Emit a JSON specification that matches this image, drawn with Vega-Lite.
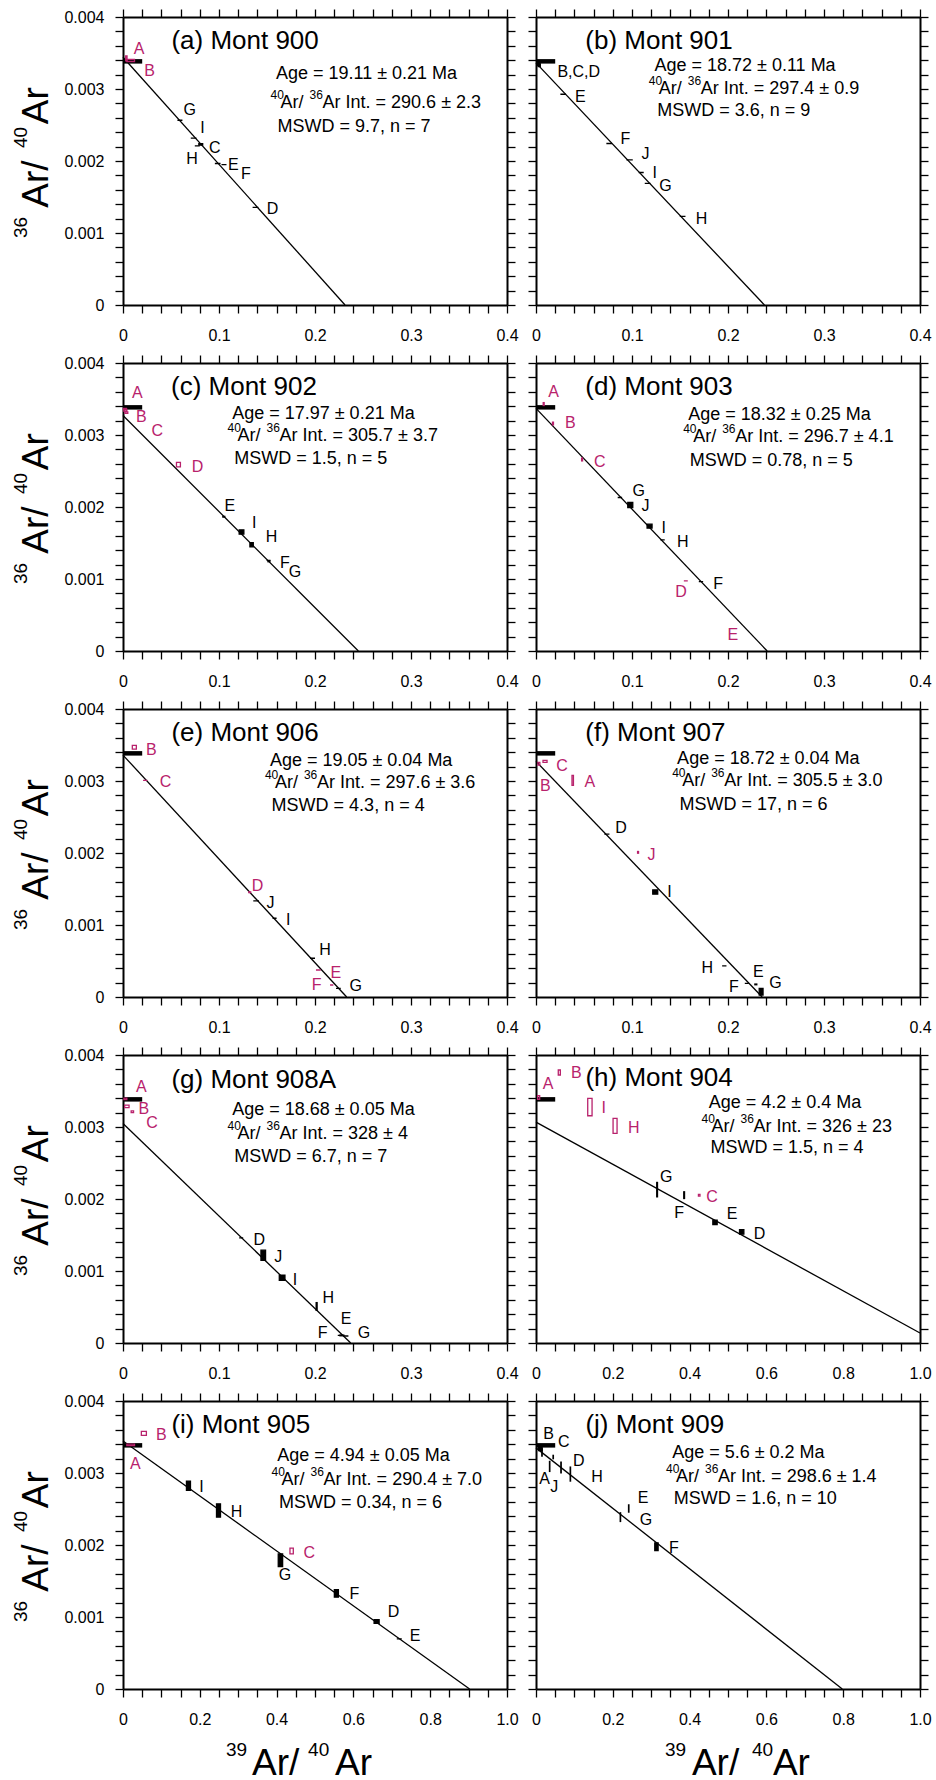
{
"$schema":"https://vega.github.io/schema/vega-lite/v6.json",
"padding":{"left":12,"top":8,"right":0,"bottom":0},
"config":{"font":"Liberation Sans","view":{"stroke":null},
 "axis":{"domainColor":"black","domainWidth":2,"tickColor":"black","tickWidth":1.3,"tickSize":8,"labelFontSize":16,"labelColor":"black","grid":false,"labelFlush":false,"labelOverlap":false},
 "axisX":{"labelPadding":14},
 "axisY":{"labelPadding":11}},
"datasets":{"d":[
{"p":"a","k":"fit","x":0,"y":0.003441},{"p":"a","k":"fit","x":0.2313,"y":0},
{"p":"a","k":"atm","x":0,"x2":0.02,"y":0.003384},
{"p":"a","k":"pt","s":"A","x":0.0028,"x2":0.0042,"y":0.00339,"y2":0.00346,"i":0},
{"p":"a","k":"pt","s":"B","x":0.004,"x2":0.012,"y":0.00338,"y2":0.00341,"i":0},
{"p":"a","k":"pt","s":"G","x":0.0567,"x2":0.0619,"y":0.002566,"y2":0.002566,"i":1},
{"p":"a","k":"pt","s":"I","x":0.0706,"x2":0.0765,"y":0.002317,"y2":0.002317,"i":1},
{"p":"a","k":"pt","s":"H","x":0.0748,"x2":0.08,"y":0.00221,"y2":0.00221,"i":1},
{"p":"a","k":"pt","s":"C","x":0.079,"x2":0.083,"y":0.00222,"y2":0.00224,"i":1},
{"p":"a","k":"pt","s":"E","x":0.0957,"x2":0.1016,"y":0.001965,"y2":0.001965,"i":1},
{"p":"a","k":"pt","s":"F","x":0.1026,"x2":0.1078,"y":0.00195,"y2":0.00195,"i":1},
{"p":"a","k":"pt","s":"D","x":0.135,"x2":0.141,"y":0.001355,"y2":0.001355,"i":1},
{"p":"a","k":"lab","s":"A","x":0.0167,"y":0.00356,"i":0},
{"p":"a","k":"lab","s":"B","x":0.0278,"y":0.00325,"i":0},
{"p":"a","k":"lab","s":"G","x":0.0696,"y":0.002705,"i":1},
{"p":"a","k":"lab","s":"I","x":0.0828,"y":0.002465,"i":1},
{"p":"a","k":"lab","s":"H","x":0.072,"y":0.002025,"i":1},
{"p":"a","k":"lab","s":"C","x":0.0957,"y":0.002187,"i":1},
{"p":"a","k":"lab","s":"E","x":0.1148,"y":0.001947,"i":1},
{"p":"a","k":"lab","s":"F","x":0.128,"y":0.001817,"i":1},
{"p":"a","k":"lab","s":"D","x":0.1558,"y":0.001332,"i":1},
{"p":"a","k":"ttl","x":0.0504,"y":0.00366,"t":"(a) Mont 900"},
{"p":"a","k":"st","x":0.1593,"y":0.003205,"t":"Age =  19.11 ± 0.21 Ma"},
{"p":"a","k":"st2","x":0.1537,"y":0.00281,"t":"Ar Int. =  290.6 ± 2.3"},
{"p":"a","k":"st","x":0.161,"y":0.00247,"t":"MSWD = 9.7, n = 7"},

{"p":"b","k":"fit","x":0,"y":0.003363},{"p":"b","k":"fit","x":0.238,"y":0},
{"p":"b","k":"atm","x":0,"x2":0.02,"y":0.003384},
{"p":"b","k":"pt","s":"B","x":0.0015,"x2":0.0035,"y":0.00333,"y2":0.00337,"i":1},
{"p":"b","k":"pt","s":"C","x":0.002,"x2":0.004,"y":0.00332,"y2":0.00336,"i":1},
{"p":"b","k":"pt","s":"D","x":0.0025,"x2":0.0045,"y":0.00331,"y2":0.00335,"i":1},
{"p":"b","k":"pt","s":"E","x":0.0254,"x2":0.0313,"y":0.002927,"y2":0.002927,"i":1},
{"p":"b","k":"pt","s":"F","x":0.0733,"x2":0.0792,"y":0.002243,"y2":0.002243,"i":1},
{"p":"b","k":"pt","s":"J","x":0.0942,"x2":0.1008,"y":0.002016,"y2":0.002016,"i":1},
{"p":"b","k":"pt","s":"I","x":0.107,"x2":0.1122,"y":0.00184,"y2":0.00184,"i":1},
{"p":"b","k":"pt","s":"G","x":0.1133,"x2":0.1192,"y":0.001688,"y2":0.001688,"i":1},
{"p":"b","k":"pt","s":"H","x":0.1498,"x2":0.1557,"y":0.00123,"y2":0.00123,"i":1},
{"p":"b","k":"lab","s":"B,C,D","x":0.0445,"y":0.003237,"i":1},
{"p":"b","k":"lab","s":"E","x":0.0462,"y":0.00289,"i":1},
{"p":"b","k":"lab","s":"F","x":0.0931,"y":0.002303,"i":1},
{"p":"b","k":"lab","s":"J","x":0.114,"y":0.002095,"i":1},
{"p":"b","k":"lab","s":"I","x":0.1237,"y":0.001827,"i":1},
{"p":"b","k":"lab","s":"G","x":0.1348,"y":0.001655,"i":1},
{"p":"b","k":"lab","s":"H","x":0.1724,"y":0.001193,"i":1},
{"p":"b","k":"ttl","x":0.0514,"y":0.003667,"t":"(b) Mont 901"},
{"p":"b","k":"st","x":0.1234,"y":0.00332,"t":"Age =  18.72 ± 0.11 Ma"},
{"p":"b","k":"st2","x":0.1175,"y":0.003,"t":"Ar Int. =  297.4 ± 0.9"},
{"p":"b","k":"st","x":0.1262,"y":0.002696,"t":"MSWD = 3.6, n = 9"},

{"p":"c","k":"fit","x":0,"y":0.003271},{"p":"c","k":"fit","x":0.2452,"y":0},
{"p":"c","k":"atm","x":0,"x2":0.02,"y":0.003384},
{"p":"c","k":"pt","s":"A","x":0.0005,"x2":0.0035,"y":0.00335,"y2":0.00337,"i":0},
{"p":"c","k":"pt","s":"B","x":0.001,"x2":0.004,"y":0.00333,"y2":0.00336,"i":0},
{"p":"c","k":"pt","s":"C","x":0.002,"x2":0.005,"y":0.0033,"y2":0.00332,"i":0},
{"p":"c","k":"pt","s":"D","x":0.0557,"x2":0.0598,"y":0.002558,"y2":0.002619,"i":0},
{"p":"c","k":"pt","s":"E","x":0.104,"x2":0.106,"y":0.00186,"y2":0.00187,"i":1},
{"p":"c","k":"pt","s":"I","x":0.121,"x2":0.1259,"y":0.001622,"y2":0.001683,"i":1},
{"p":"c","k":"pt","s":"H","x":0.1322,"x2":0.1357,"y":0.001446,"y2":0.001506,"i":1},
{"p":"c","k":"pt","s":"F","x":0.1496,"x2":0.1537,"y":0.00126,"y2":0.00126,"i":1},
{"p":"c","k":"pt","s":"G","x":0.151,"x2":0.153,"y":0.00124,"y2":0.00125,"i":1},
{"p":"c","k":"lab","s":"A","x":0.015,"y":0.003583,"i":0},
{"p":"c","k":"lab","s":"B","x":0.0191,"y":0.003254,"i":0},
{"p":"c","k":"lab","s":"C","x":0.0358,"y":0.00305,"i":0},
{"p":"c","k":"lab","s":"D","x":0.0776,"y":0.002558,"i":0},
{"p":"c","k":"lab","s":"E","x":0.1113,"y":0.002007,"i":1},
{"p":"c","k":"lab","s":"I","x":0.1367,"y":0.001784,"i":1},
{"p":"c","k":"lab","s":"H","x":0.1548,"y":0.001585,"i":1},
{"p":"c","k":"lab","s":"F","x":0.1687,"y":0.001228,"i":1},
{"p":"c","k":"lab","s":"G","x":0.1791,"y":0.001103,"i":1},
{"p":"c","k":"ttl","x":0.05,"y":0.003662,"t":"(c) Mont 902"},
{"p":"c","k":"st","x":0.1137,"y":0.003291,"t":"Age =  17.97 ± 0.21 Ma"},
{"p":"c","k":"st2","x":0.1089,"y":0.00298,"t":"Ar Int. =  305.7 ± 3.7"},
{"p":"c","k":"st","x":0.1158,"y":0.002665,"t":"MSWD = 1.5, n = 5"},

{"p":"d","k":"fit","x":0,"y":0.00337},{"p":"d","k":"fit","x":0.2408,"y":0},
{"p":"d","k":"atm","x":0,"x2":0.02,"y":0.003384},
{"p":"d","k":"pt","s":"A","x":0.0075,"x2":0.0085,"y":0.00341,"y2":0.00345,"i":0},
{"p":"d","k":"pt","s":"B","x":0.0172,"x2":0.0182,"y":0.00314,"y2":0.00318,"i":0},
{"p":"d","k":"pt","s":"C","x":0.0475,"x2":0.0485,"y":0.00264,"y2":0.00268,"i":0},
{"p":"d","k":"pt","s":"G","x":0.0851,"x2":0.0897,"y":0.002132,"y2":0.002132,"i":1},
{"p":"d","k":"pt","s":"J","x":0.0956,"x2":0.1008,"y":0.001993,"y2":0.002063,"i":1},
{"p":"d","k":"pt","s":"I","x":0.1157,"x2":0.1209,"y":0.001706,"y2":0.001761,"i":1},
{"p":"d","k":"pt","s":"H","x":0.1296,"x2":0.1341,"y":0.001543,"y2":0.001543,"i":1},
{"p":"d","k":"pt","s":"D","x":0.154,"x2":0.1581,"y":0.000973,"y2":0.000973,"i":0},
{"p":"d","k":"pt","s":"F","x":0.1696,"x2":0.1741,"y":0.000964,"y2":0.000964,"i":1},
{"p":"d","k":"lab","s":"A","x":0.0184,"y":0.003592,"i":0},
{"p":"d","k":"lab","s":"B","x":0.0358,"y":0.003161,"i":0},
{"p":"d","k":"lab","s":"C","x":0.0664,"y":0.002619,"i":0},
{"p":"d","k":"lab","s":"G","x":0.107,"y":0.002225,"i":1},
{"p":"d","k":"lab","s":"J","x":0.114,"y":0.002007,"i":1},
{"p":"d","k":"lab","s":"I","x":0.1331,"y":0.001715,"i":1},
{"p":"d","k":"lab","s":"H","x":0.1529,"y":0.001516,"i":1},
{"p":"d","k":"lab","s":"D","x":0.1512,"y":0.000825,"i":0},
{"p":"d","k":"lab","s":"F","x":0.1897,"y":0.000927,"i":1},
{"p":"d","k":"lab","s":"E","x":0.205,"y":0.000222,"i":0},
{"p":"d","k":"ttl","x":0.0514,"y":0.003662,"t":"(d) Mont 903"},
{"p":"d","k":"st","x":0.1585,"y":0.003282,"t":"Age =  18.32 ± 0.25 Ma"},
{"p":"d","k":"st2","x":0.1533,"y":0.002966,"t":"Ar Int. =  296.7 ± 4.1"},
{"p":"d","k":"st","x":0.1602,"y":0.00264,"t":"MSWD = 0.78, n = 5"},

{"p":"e","k":"fit","x":0,"y":0.00336},{"p":"e","k":"fit","x":0.233,"y":0},
{"p":"e","k":"atm","x":0,"x2":0.02,"y":0.003384},
{"p":"e","k":"pt","s":"B","x":0.0097,"x2":0.0139,"y":0.003444,"y2":0.003495,"i":0},
{"p":"e","k":"pt","s":"C","x":0.0209,"x2":0.0254,"y":0.003008,"y2":0.003008,"i":0},
{"p":"e","k":"pt","s":"D","x":0.131,"x2":0.133,"y":0.00145,"y2":0.00146,"i":0},
{"p":"e","k":"pt","s":"J","x":0.1357,"x2":0.1416,"y":0.001335,"y2":0.001335,"i":1},
{"p":"e","k":"pt","s":"I","x":0.1558,"x2":0.16,"y":0.001094,"y2":0.001094,"i":1},
{"p":"e","k":"pt","s":"H","x":0.1948,"x2":0.2,"y":0.000538,"y2":0.000538,"i":1},
{"p":"e","k":"pt","s":"E","x":0.201,"x2":0.206,"y":0.000375,"y2":0.000375,"i":0},
{"p":"e","k":"pt","s":"F","x":0.2157,"x2":0.2191,"y":0.000167,"y2":0.000167,"i":0},
{"p":"e","k":"pt","s":"G","x":0.2219,"x2":0.2268,"y":0.00012,"y2":0.00012,"i":1},
{"p":"e","k":"lab","s":"B","x":0.0296,"y":0.003435,"i":0},
{"p":"e","k":"lab","s":"C","x":0.0442,"y":0.002985,"i":0},
{"p":"e","k":"lab","s":"D","x":0.1402,"y":0.001548,"i":0},
{"p":"e","k":"lab","s":"J","x":0.1537,"y":0.001302,"i":1},
{"p":"e","k":"lab","s":"I","x":0.1722,"y":0.001071,"i":1},
{"p":"e","k":"lab","s":"H","x":0.2104,"y":0.000654,"i":1},
{"p":"e","k":"lab","s":"E","x":0.2216,"y":0.000338,"i":0},
{"p":"e","k":"lab","s":"F","x":0.2017,"y":0.000167,"i":0},
{"p":"e","k":"lab","s":"G","x":0.2424,"y":0.000153,"i":1},
{"p":"e","k":"ttl","x":0.0504,"y":0.003666,"t":"(e) Mont 906"},
{"p":"e","k":"st","x":0.153,"y":0.003282,"t":"Age =  19.05 ± 0.04 Ma"},
{"p":"e","k":"st2","x":0.1478,"y":0.002971,"t":"Ar Int. =  297.6 ± 3.6"},
{"p":"e","k":"st","x":0.1548,"y":0.002647,"t":"MSWD = 4.3, n = 4"},

{"p":"f","k":"fit","x":0,"y":0.003273},{"p":"f","k":"fit","x":0.2356,"y":0},
{"p":"f","k":"atm","x":0,"x2":0.02,"y":0.003384},
{"p":"f","k":"pt","s":"C","x":0.0073,"x2":0.0115,"y":0.003258,"y2":0.003286,"i":0},
{"p":"f","k":"pt","s":"B","x":0.002,"x2":0.004,"y":0.00322,"y2":0.00326,"i":0},
{"p":"f","k":"pt","s":"A","x":0.0375,"x2":0.039,"y":0.002939,"y2":0.003078,"i":0},
{"p":"f","k":"pt","s":"D","x":0.0712,"x2":0.0765,"y":0.002262,"y2":0.002262,"i":1},
{"p":"f","k":"pt","s":"J","x":0.1058,"x2":0.1068,"y":0.001997,"y2":0.002021,"i":0},
{"p":"f","k":"pt","s":"I","x":0.1216,"x2":0.1268,"y":0.001428,"y2":0.001488,"i":1},
{"p":"f","k":"pt","s":"H","x":0.1939,"x2":0.1984,"y":0.000431,"y2":0.000431,"i":1},
{"p":"f","k":"pt","s":"F","x":0.2175,"x2":0.2217,"y":0.00019,"y2":0.00019,"i":1},
{"p":"f","k":"pt","s":"E","x":0.228,"x2":0.23,"y":0.00017,"y2":0.00018,"i":1},
{"p":"f","k":"pt","s":"G","x":0.2325,"x2":0.2365,"y":0.000028,"y2":0.00012,"i":1},
{"p":"f","k":"lab","s":"C","x":0.0271,"y":0.003203,"i":0},
{"p":"f","k":"lab","s":"B","x":0.0097,"y":0.002925,"i":0},
{"p":"f","k":"lab","s":"A","x":0.056,"y":0.00298,"i":0},
{"p":"f","k":"lab","s":"D","x":0.0886,"y":0.002345,"i":1},
{"p":"f","k":"lab","s":"J","x":0.1202,"y":0.001975,"i":0},
{"p":"f","k":"lab","s":"I","x":0.139,"y":0.001455,"i":1},
{"p":"f","k":"lab","s":"H","x":0.1783,"y":0.000399,"i":1},
{"p":"f","k":"lab","s":"F","x":0.2061,"y":0.000144,"i":1},
{"p":"f","k":"lab","s":"E","x":0.2315,"y":0.000352,"i":1},
{"p":"f","k":"lab","s":"G","x":0.2495,"y":0.00019,"i":1},
{"p":"f","k":"ttl","x":0.0514,"y":0.003666,"t":"(f) Mont 907"},
{"p":"f","k":"st","x":0.147,"y":0.00331,"t":"Age =  18.72 ± 0.04 Ma"},
{"p":"f","k":"st2","x":0.1418,"y":0.002995,"t":"Ar Int. =  305.5 ± 3.0"},
{"p":"f","k":"st","x":0.1494,"y":0.00267,"t":"MSWD = 17, n = 6"},

{"p":"g","k":"fit","x":0,"y":0.003049},{"p":"g","k":"fit","x":0.2372,"y":0},
{"p":"g","k":"atm","x":0,"x2":0.02,"y":0.003384},
{"p":"g","k":"pt","s":"A","x":0.001,"x2":0.004,"y":0.00338,"y2":0.0034,"i":0},
{"p":"g","k":"pt","s":"B","x":0.0017,"x2":0.0063,"y":0.003268,"y2":0.003305,"i":0},
{"p":"g","k":"pt","s":"C","x":0.0085,"x2":0.011,"y":0.0032,"y2":0.003225,"i":0},
{"p":"g","k":"pt","s":"D","x":0.121,"x2":0.1252,"y":0.00146,"y2":0.00146,"i":1},
{"p":"g","k":"pt","s":"J","x":0.1437,"x2":0.1485,"y":0.001149,"y2":0.001289,"i":1},
{"p":"g","k":"pt","s":"I","x":0.1628,"x2":0.1687,"y":0.000871,"y2":0.000941,"i":1},
{"p":"g","k":"pt","s":"H","x":0.2012,"x2":0.2022,"y":0.000454,"y2":0.000561,"i":1},
{"p":"g","k":"pt","s":"F","x":0.2237,"x2":0.2289,"y":0.000107,"y2":0.000107,"i":1},
{"p":"g","k":"pt","s":"E","x":0.226,"x2":0.23,"y":0.0001,"y2":0.00011,"i":1},
{"p":"g","k":"pt","s":"G","x":0.2296,"x2":0.2348,"y":0.000097,"y2":0.000097,"i":1},
{"p":"g","k":"lab","s":"A","x":0.0191,"y":0.00356,"i":0},
{"p":"g","k":"lab","s":"B","x":0.0216,"y":0.003249,"i":0},
{"p":"g","k":"lab","s":"C","x":0.0303,"y":0.00305,"i":0},
{"p":"g","k":"lab","s":"D","x":0.1419,"y":0.001428,"i":1},
{"p":"g","k":"lab","s":"J","x":0.1617,"y":0.001196,"i":1},
{"p":"g","k":"lab","s":"I","x":0.1791,"y":0.000881,"i":1},
{"p":"g","k":"lab","s":"H","x":0.2139,"y":0.00063,"i":1},
{"p":"g","k":"lab","s":"E","x":0.2323,"y":0.000338,"i":1},
{"p":"g","k":"lab","s":"F","x":0.208,"y":0.000139,"i":1},
{"p":"g","k":"lab","s":"G","x":0.2511,"y":0.000139,"i":1},
{"p":"g","k":"ttl","x":0.0504,"y":0.003652,"t":"(g) Mont 908A"},
{"p":"g","k":"st","x":0.1137,"y":0.003235,"t":"Age =  18.68 ± 0.05 Ma"},
{"p":"g","k":"st2","x":0.1089,"y":0.002897,"t":"Ar Int. =  328 ± 4"},
{"p":"g","k":"st","x":0.1158,"y":0.002586,"t":"MSWD = 6.7, n = 7"},

{"p":"h","k":"fit","x":0,"y":0.003067},{"p":"h","k":"fit","x":1,"y":0.000139},
{"p":"h","k":"atm","x":0,"x2":0.05,"y":0.003384},
{"p":"h","k":"pt","s":"A","x":0.0043,"x2":0.0096,"y":0.003384,"y2":0.003435,"i":0},
{"p":"h","k":"pt","s":"B","x":0.058,"x2":0.0634,"y":0.003722,"y2":0.003792,"i":0},
{"p":"h","k":"pt","s":"I","x":0.1347,"x2":0.146,"y":0.003156,"y2":0.003397,"i":0},
{"p":"h","k":"pt","s":"H","x":0.2007,"x2":0.2111,"y":0.002911,"y2":0.003119,"i":0},
{"p":"h","k":"pt","s":"G","x":0.3144,"x2":0.3164,"y":0.00203,"y2":0.00223,"i":1},
{"p":"h","k":"pt","s":"F","x":0.3848,"x2":0.3868,"y":0.002007,"y2":0.0021,"i":1},
{"p":"h","k":"pt","s":"C","x":0.423,"x2":0.427,"y":0.00204,"y2":0.002065,"i":0},
{"p":"h","k":"pt","s":"E","x":0.4605,"x2":0.4718,"y":0.001645,"y2":0.001706,"i":1},
{"p":"h","k":"pt","s":"D","x":0.53,"x2":0.5413,"y":0.001511,"y2":0.001576,"i":1},
{"p":"h","k":"lab","s":"A","x":0.0313,"y":0.003592,"i":0},
{"p":"h","k":"lab","s":"B","x":0.1051,"y":0.003745,"i":0},
{"p":"h","k":"lab","s":"I","x":0.1764,"y":0.003258,"i":0},
{"p":"h","k":"lab","s":"H","x":0.2546,"y":0.00299,"i":0},
{"p":"h","k":"lab","s":"G","x":0.3388,"y":0.002308,"i":1},
{"p":"h","k":"lab","s":"F","x":0.3727,"y":0.001808,"i":1},
{"p":"h","k":"lab","s":"C","x":0.4587,"y":0.00203,"i":0},
{"p":"h","k":"lab","s":"E","x":0.5109,"y":0.001798,"i":1},
{"p":"h","k":"lab","s":"D","x":0.5821,"y":0.00152,"i":1},
{"p":"h","k":"ttl","x":0.1286,"y":0.003676,"t":"(h) Mont 904"},
{"p":"h","k":"st","x":0.45,"y":0.003328,"t":"Age =  4.2 ± 0.4 Ma"},
{"p":"h","k":"st2","x":0.431,"y":0.003003,"t":"Ar Int. =  326 ± 23"},
{"p":"h","k":"st","x":0.4544,"y":0.002702,"t":"MSWD = 1.5, n = 4"},

{"p":"i","k":"fit","x":0,"y":0.003444},{"p":"i","k":"fit","x":0.9026,"y":0},
{"p":"i","k":"atm","x":0,"x2":0.05,"y":0.003384},
{"p":"i","k":"pt","s":"B","x":0.0478,"x2":0.0609,"y":0.003523,"y2":0.003578,"i":0},
{"p":"i","k":"pt","s":"A","x":0.01,"x2":0.03,"y":0.00338,"y2":0.0034,"i":0},
{"p":"i","k":"pt","s":"I","x":0.1652,"x2":0.1757,"y":0.002758,"y2":0.002888,"i":1},
{"p":"i","k":"pt","s":"H","x":0.2435,"x2":0.2539,"y":0.002387,"y2":0.002572,"i":1},
{"p":"i","k":"pt","s":"G","x":0.4043,"x2":0.4157,"y":0.001701,"y2":0.001877,"i":1},
{"p":"i","k":"pt","s":"C","x":0.4348,"x2":0.4435,"y":0.001877,"y2":0.001956,"i":0},
{"p":"i","k":"pt","s":"F","x":0.5504,"x2":0.5609,"y":0.001275,"y2":0.001381,"i":1},
{"p":"i","k":"pt","s":"D","x":0.6539,"x2":0.667,"y":0.000913,"y2":0.000964,"i":1},
{"p":"i","k":"pt","s":"E","x":0.713,"x2":0.726,"y":0.000695,"y2":0.000695,"i":1},
{"p":"i","k":"lab","s":"B","x":0.1,"y":0.003532,"i":0},
{"p":"i","k":"lab","s":"A","x":0.0322,"y":0.003129,"i":0},
{"p":"i","k":"lab","s":"I","x":0.2043,"y":0.002804,"i":1},
{"p":"i","k":"lab","s":"H","x":0.2957,"y":0.002457,"i":1},
{"p":"i","k":"lab","s":"G","x":0.4217,"y":0.001585,"i":1},
{"p":"i","k":"lab","s":"C","x":0.4852,"y":0.001891,"i":0},
{"p":"i","k":"lab","s":"F","x":0.6026,"y":0.001321,"i":1},
{"p":"i","k":"lab","s":"D","x":0.7043,"y":0.001066,"i":1},
{"p":"i","k":"lab","s":"E","x":0.7609,"y":0.000742,"i":1},
{"p":"i","k":"ttl","x":0.126,"y":0.003671,"t":"(i) Mont 905"},
{"p":"i","k":"st","x":0.4017,"y":0.003235,"t":"Age =  4.94 ± 0.05 Ma"},
{"p":"i","k":"st2","x":0.387,"y":0.002897,"t":"Ar Int. =  290.4 ± 7.0"},
{"p":"i","k":"st","x":0.406,"y":0.002586,"t":"MSWD = 0.34, n = 6"},

{"p":"j","k":"fit","x":0,"y":0.003349},{"p":"j","k":"fit","x":0.7976,"y":0},
{"p":"j","k":"atm","x":0,"x2":0.05,"y":0.003384},
{"p":"j","k":"pt","s":"B","x":0.007,"x2":0.016,"y":0.00331,"y2":0.00338,"i":1},
{"p":"j","k":"pt","s":"C","x":0.009,"x2":0.014,"y":0.00332,"y2":0.00336,"i":1},
{"p":"j","k":"pt","s":"A","x":0.0151,"x2":0.0161,"y":0.003235,"y2":0.003337,"i":1},
{"p":"j","k":"pt","s":"J","x":0.0351,"x2":0.0361,"y":0.003022,"y2":0.003161,"i":1},
{"p":"j","k":"pt","s":"I","x":0.0443,"x2":0.0453,"y":0.003199,"y2":0.003245,"i":1},
{"p":"j","k":"pt","s":"D","x":0.0647,"x2":0.0657,"y":0.003003,"y2":0.003152,"i":1},
{"p":"j","k":"pt","s":"H","x":0.089,"x2":0.09,"y":0.002888,"y2":0.003082,"i":1},
{"p":"j","k":"pt","s":"G","x":0.2193,"x2":0.2203,"y":0.002327,"y2":0.002447,"i":1},
{"p":"j","k":"pt","s":"E","x":0.241,"x2":0.242,"y":0.002457,"y2":0.002557,"i":1},
{"p":"j","k":"pt","s":"F","x":0.3093,"x2":0.318,"y":0.001923,"y2":0.00203,"i":1},
{"p":"j","k":"lab","s":"B","x":0.033,"y":0.003537,"i":1},
{"p":"j","k":"lab","s":"C","x":0.0721,"y":0.00343,"i":1},
{"p":"j","k":"lab","s":"A","x":0.0226,"y":0.00292,"i":1},
{"p":"j","k":"lab","s":"J","x":0.0478,"y":0.002804,"i":1},
{"p":"j","k":"lab","s":"D","x":0.1112,"y":0.003166,"i":1},
{"p":"j","k":"lab","s":"H","x":0.159,"y":0.002943,"i":1},
{"p":"j","k":"lab","s":"E","x":0.2789,"y":0.002651,"i":1},
{"p":"j","k":"lab","s":"G","x":0.2867,"y":0.00235,"i":1},
{"p":"j","k":"lab","s":"F","x":0.3588,"y":0.001956,"i":1},
{"p":"j","k":"ttl","x":0.1286,"y":0.003662,"t":"(j) Mont 909"},
{"p":"j","k":"st","x":0.3545,"y":0.003282,"t":"Age =  5.6 ± 0.2 Ma"},
{"p":"j","k":"st2","x":0.3388,"y":0.002943,"t":"Ar Int. =  298.6 ± 1.4"},
{"p":"j","k":"st","x":0.3588,"y":0.00264,"t":"MSWD = 1.6, n = 10"}
]},
"data":{"name":"d"},
"columns":2,
"spacing":{"row":58,"column":29},
"bounds":"flush",
"concat":[
{"width":384,"height":288,"transform":[{"filter":"datum.p=='a'"}],
 "layer":[
  {"transform":[{"filter":"datum.k=='fit'"}],"mark":{"type":"line","color":"black","strokeWidth":1.3},
   "encoding":{"x":{"field":"x","type":"quantitative","scale":{"domain":[0,0.4],"nice":false,"zero":false},"axis":{"orient":"bottom","values":[0,0.02,0.04,0.06,0.08,0.1,0.12,0.14,0.16,0.18,0.2,0.22,0.24,0.26,0.28,0.3,0.32,0.34,0.36,0.38,0.4],"labelExpr":"abs(datum.value*10-round(datum.value*10))<0.01 ? (datum.value==0 ? '0' : format(datum.value,'.1f')) : ''","title":null}},
    "y":{"field":"y","type":"quantitative","scale":{"domain":[0,0.004],"nice":false,"zero":false},"axis":{"orient":"left","values":[0,0.0002,0.0004,0.0006,0.0008,0.001,0.0012,0.0014,0.0016,0.0018,0.002,0.0022,0.0024,0.0026,0.0028,0.003,0.0032,0.0034,0.0036,0.0038,0.004],"labelExpr":"abs(datum.value*1000-round(datum.value*1000))<0.01 ? (datum.value==0 ? '0' : format(datum.value,'.3f')) : ''","title":null}}}},
  {"transform":[{"filter":"datum.k=='atm'"}],"mark":{"type":"rule","color":"black","strokeWidth":4.5},
   "encoding":{"x":{"field":"x","type":"quantitative","axis":{"orient":"top","values":[0,0.02,0.04,0.06,0.08,0.1,0.12,0.14,0.16,0.18,0.2,0.22,0.24,0.26,0.28,0.3,0.32,0.34,0.36,0.38,0.4],"labels":false,"title":null}},"x2":{"field":"x2"},
    "y":{"field":"y","type":"quantitative","axis":{"orient":"right","values":[0,0.0002,0.0004,0.0006,0.0008,0.001,0.0012,0.0014,0.0016,0.0018,0.002,0.0022,0.0024,0.0026,0.0028,0.003,0.0032,0.0034,0.0036,0.0038,0.004],"labels":false,"title":null}}}},
  {"transform":[{"filter":"datum.k=='pt' && datum.i==0"}],"mark":{"type":"rect","filled":false,"stroke":"#b8226c","strokeWidth":1.3},
   "encoding":{"x":{"field":"x","type":"quantitative","axis":null},"x2":{"field":"x2"},"y":{"field":"y","type":"quantitative","axis":null},"y2":{"field":"y2"}}},
  {"transform":[{"filter":"datum.k=='pt' && datum.i==1"}],"mark":{"type":"rect","color":"black","stroke":"black","strokeWidth":1.3},
   "encoding":{"x":{"field":"x","type":"quantitative","axis":null},"x2":{"field":"x2"},"y":{"field":"y","type":"quantitative","axis":null},"y2":{"field":"y2"}}},
  {"transform":[{"filter":"datum.k=='lab'"}],"mark":{"type":"text","fontSize":16},
   "encoding":{"x":{"field":"x","type":"quantitative","axis":null},"y":{"field":"y","type":"quantitative","axis":null},"text":{"field":"s"},"color":{"condition":{"test":"datum.i==1","value":"black"},"value":"#b8226c"}}},
  {"transform":[{"filter":"datum.k=='ttl'"}],"mark":{"type":"text","fontSize":26,"align":"left","color":"black"},
   "encoding":{"x":{"field":"x","type":"quantitative","axis":null},"y":{"field":"y","type":"quantitative","axis":null},"text":{"field":"t"}}},
  {"transform":[{"filter":"datum.k=='st'"}],"mark":{"type":"text","fontSize":18,"align":"left","color":"black"},
   "encoding":{"x":{"field":"x","type":"quantitative","axis":null},"y":{"field":"y","type":"quantitative","axis":null},"text":{"field":"t"}}},
  {"transform":[{"filter":"datum.k=='st2'"}],"mark":{"type":"text","text":"40","fontSize":12,"align":"left","dy":-8,"color":"black"},
   "encoding":{"x":{"field":"x","type":"quantitative","axis":null},"y":{"field":"y","type":"quantitative","axis":null}}},
  {"transform":[{"filter":"datum.k=='st2'"}],"mark":{"type":"text","text":"Ar/","fontSize":18,"align":"left","dx":10,"color":"black"},
   "encoding":{"x":{"field":"x","type":"quantitative","axis":null},"y":{"field":"y","type":"quantitative","axis":null}}},
  {"transform":[{"filter":"datum.k=='st2'"}],"mark":{"type":"text","text":"36","fontSize":12,"align":"left","dx":39,"dy":-8,"color":"black"},
   "encoding":{"x":{"field":"x","type":"quantitative","axis":null},"y":{"field":"y","type":"quantitative","axis":null}}},
  {"transform":[{"filter":"datum.k=='st2'"}],"mark":{"type":"text","fontSize":18,"align":"left","dx":52,"color":"black"},
   "encoding":{"x":{"field":"x","type":"quantitative","axis":null},"y":{"field":"y","type":"quantitative","axis":null},"text":{"field":"t"}}},
  {"transform":[{"filter":"datum.k=='fit' && datum.x==0"}],"mark":{"type":"text","text":"36","fontSize":19,"angle":270,"align":"left","baseline":"alphabetic","dy":-96,"color":"black"},
   "encoding":{"x":{"datum":0,"type":"quantitative","axis":null},"y":{"datum":0.00093,"type":"quantitative","axis":null}}},
  {"transform":[{"filter":"datum.k=='fit' && datum.x==0"}],"mark":{"type":"text","text":"Ar/","fontSize":37,"angle":270,"align":"left","baseline":"alphabetic","dy":-75,"color":"black"},
   "encoding":{"x":{"datum":0,"type":"quantitative","axis":null},"y":{"datum":0.00135,"type":"quantitative","axis":null}}},
  {"transform":[{"filter":"datum.k=='fit' && datum.x==0"}],"mark":{"type":"text","text":"40","fontSize":19,"angle":270,"align":"left","baseline":"alphabetic","dy":-96,"color":"black"},
   "encoding":{"x":{"datum":0,"type":"quantitative","axis":null},"y":{"datum":0.00218,"type":"quantitative","axis":null}}},
  {"transform":[{"filter":"datum.k=='fit' && datum.x==0"}],"mark":{"type":"text","text":"Ar","fontSize":37,"angle":270,"align":"left","baseline":"alphabetic","dy":-75,"color":"black"},
   "encoding":{"x":{"datum":0,"type":"quantitative","axis":null},"y":{"datum":0.00251,"type":"quantitative","axis":null}}}
 ],
 "resolve":{"axis":{"x":"independent","y":"independent"}}},
{"width":384,"height":288,"transform":[{"filter":"datum.p=='b'"}],
 "layer":[
  {"transform":[{"filter":"datum.k=='fit'"}],"mark":{"type":"line","color":"black","strokeWidth":1.3},
   "encoding":{"x":{"field":"x","type":"quantitative","scale":{"domain":[0,0.4],"nice":false,"zero":false},"axis":{"orient":"bottom","values":[0,0.02,0.04,0.06,0.08,0.1,0.12,0.14,0.16,0.18,0.2,0.22,0.24,0.26,0.28,0.3,0.32,0.34,0.36,0.38,0.4],"labelExpr":"abs(datum.value*10-round(datum.value*10))<0.01 ? (datum.value==0 ? '0' : format(datum.value,'.1f')) : ''","title":null}},
    "y":{"field":"y","type":"quantitative","scale":{"domain":[0,0.004],"nice":false,"zero":false},"axis":{"orient":"left","values":[0,0.0002,0.0004,0.0006,0.0008,0.001,0.0012,0.0014,0.0016,0.0018,0.002,0.0022,0.0024,0.0026,0.0028,0.003,0.0032,0.0034,0.0036,0.0038,0.004],"labels":false,"title":null}}}},
  {"transform":[{"filter":"datum.k=='atm'"}],"mark":{"type":"rule","color":"black","strokeWidth":4.5},
   "encoding":{"x":{"field":"x","type":"quantitative","axis":{"orient":"top","values":[0,0.02,0.04,0.06,0.08,0.1,0.12,0.14,0.16,0.18,0.2,0.22,0.24,0.26,0.28,0.3,0.32,0.34,0.36,0.38,0.4],"labels":false,"title":null}},"x2":{"field":"x2"},
    "y":{"field":"y","type":"quantitative","axis":{"orient":"right","values":[0,0.0002,0.0004,0.0006,0.0008,0.001,0.0012,0.0014,0.0016,0.0018,0.002,0.0022,0.0024,0.0026,0.0028,0.003,0.0032,0.0034,0.0036,0.0038,0.004],"labels":false,"title":null}}}},
  {"transform":[{"filter":"datum.k=='pt' && datum.i==0"}],"mark":{"type":"rect","filled":false,"stroke":"#b8226c","strokeWidth":1.3},
   "encoding":{"x":{"field":"x","type":"quantitative","axis":null},"x2":{"field":"x2"},"y":{"field":"y","type":"quantitative","axis":null},"y2":{"field":"y2"}}},
  {"transform":[{"filter":"datum.k=='pt' && datum.i==1"}],"mark":{"type":"rect","color":"black","stroke":"black","strokeWidth":1.3},
   "encoding":{"x":{"field":"x","type":"quantitative","axis":null},"x2":{"field":"x2"},"y":{"field":"y","type":"quantitative","axis":null},"y2":{"field":"y2"}}},
  {"transform":[{"filter":"datum.k=='lab'"}],"mark":{"type":"text","fontSize":16},
   "encoding":{"x":{"field":"x","type":"quantitative","axis":null},"y":{"field":"y","type":"quantitative","axis":null},"text":{"field":"s"},"color":{"condition":{"test":"datum.i==1","value":"black"},"value":"#b8226c"}}},
  {"transform":[{"filter":"datum.k=='ttl'"}],"mark":{"type":"text","fontSize":26,"align":"left","color":"black"},
   "encoding":{"x":{"field":"x","type":"quantitative","axis":null},"y":{"field":"y","type":"quantitative","axis":null},"text":{"field":"t"}}},
  {"transform":[{"filter":"datum.k=='st'"}],"mark":{"type":"text","fontSize":18,"align":"left","color":"black"},
   "encoding":{"x":{"field":"x","type":"quantitative","axis":null},"y":{"field":"y","type":"quantitative","axis":null},"text":{"field":"t"}}},
  {"transform":[{"filter":"datum.k=='st2'"}],"mark":{"type":"text","text":"40","fontSize":12,"align":"left","dy":-8,"color":"black"},
   "encoding":{"x":{"field":"x","type":"quantitative","axis":null},"y":{"field":"y","type":"quantitative","axis":null}}},
  {"transform":[{"filter":"datum.k=='st2'"}],"mark":{"type":"text","text":"Ar/","fontSize":18,"align":"left","dx":10,"color":"black"},
   "encoding":{"x":{"field":"x","type":"quantitative","axis":null},"y":{"field":"y","type":"quantitative","axis":null}}},
  {"transform":[{"filter":"datum.k=='st2'"}],"mark":{"type":"text","text":"36","fontSize":12,"align":"left","dx":39,"dy":-8,"color":"black"},
   "encoding":{"x":{"field":"x","type":"quantitative","axis":null},"y":{"field":"y","type":"quantitative","axis":null}}},
  {"transform":[{"filter":"datum.k=='st2'"}],"mark":{"type":"text","fontSize":18,"align":"left","dx":52,"color":"black"},
   "encoding":{"x":{"field":"x","type":"quantitative","axis":null},"y":{"field":"y","type":"quantitative","axis":null},"text":{"field":"t"}}}
 ],
 "resolve":{"axis":{"x":"independent","y":"independent"}}},
{"width":384,"height":288,"transform":[{"filter":"datum.p=='c'"}],
 "layer":[
  {"transform":[{"filter":"datum.k=='fit'"}],"mark":{"type":"line","color":"black","strokeWidth":1.3},
   "encoding":{"x":{"field":"x","type":"quantitative","scale":{"domain":[0,0.4],"nice":false,"zero":false},"axis":{"orient":"bottom","values":[0,0.02,0.04,0.06,0.08,0.1,0.12,0.14,0.16,0.18,0.2,0.22,0.24,0.26,0.28,0.3,0.32,0.34,0.36,0.38,0.4],"labelExpr":"abs(datum.value*10-round(datum.value*10))<0.01 ? (datum.value==0 ? '0' : format(datum.value,'.1f')) : ''","title":null}},
    "y":{"field":"y","type":"quantitative","scale":{"domain":[0,0.004],"nice":false,"zero":false},"axis":{"orient":"left","values":[0,0.0002,0.0004,0.0006,0.0008,0.001,0.0012,0.0014,0.0016,0.0018,0.002,0.0022,0.0024,0.0026,0.0028,0.003,0.0032,0.0034,0.0036,0.0038,0.004],"labelExpr":"abs(datum.value*1000-round(datum.value*1000))<0.01 ? (datum.value==0 ? '0' : format(datum.value,'.3f')) : ''","title":null}}}},
  {"transform":[{"filter":"datum.k=='atm'"}],"mark":{"type":"rule","color":"black","strokeWidth":4.5},
   "encoding":{"x":{"field":"x","type":"quantitative","axis":{"orient":"top","values":[0,0.02,0.04,0.06,0.08,0.1,0.12,0.14,0.16,0.18,0.2,0.22,0.24,0.26,0.28,0.3,0.32,0.34,0.36,0.38,0.4],"labels":false,"title":null}},"x2":{"field":"x2"},
    "y":{"field":"y","type":"quantitative","axis":{"orient":"right","values":[0,0.0002,0.0004,0.0006,0.0008,0.001,0.0012,0.0014,0.0016,0.0018,0.002,0.0022,0.0024,0.0026,0.0028,0.003,0.0032,0.0034,0.0036,0.0038,0.004],"labels":false,"title":null}}}},
  {"transform":[{"filter":"datum.k=='pt' && datum.i==0"}],"mark":{"type":"rect","filled":false,"stroke":"#b8226c","strokeWidth":1.3},
   "encoding":{"x":{"field":"x","type":"quantitative","axis":null},"x2":{"field":"x2"},"y":{"field":"y","type":"quantitative","axis":null},"y2":{"field":"y2"}}},
  {"transform":[{"filter":"datum.k=='pt' && datum.i==1"}],"mark":{"type":"rect","color":"black","stroke":"black","strokeWidth":1.3},
   "encoding":{"x":{"field":"x","type":"quantitative","axis":null},"x2":{"field":"x2"},"y":{"field":"y","type":"quantitative","axis":null},"y2":{"field":"y2"}}},
  {"transform":[{"filter":"datum.k=='lab'"}],"mark":{"type":"text","fontSize":16},
   "encoding":{"x":{"field":"x","type":"quantitative","axis":null},"y":{"field":"y","type":"quantitative","axis":null},"text":{"field":"s"},"color":{"condition":{"test":"datum.i==1","value":"black"},"value":"#b8226c"}}},
  {"transform":[{"filter":"datum.k=='ttl'"}],"mark":{"type":"text","fontSize":26,"align":"left","color":"black"},
   "encoding":{"x":{"field":"x","type":"quantitative","axis":null},"y":{"field":"y","type":"quantitative","axis":null},"text":{"field":"t"}}},
  {"transform":[{"filter":"datum.k=='st'"}],"mark":{"type":"text","fontSize":18,"align":"left","color":"black"},
   "encoding":{"x":{"field":"x","type":"quantitative","axis":null},"y":{"field":"y","type":"quantitative","axis":null},"text":{"field":"t"}}},
  {"transform":[{"filter":"datum.k=='st2'"}],"mark":{"type":"text","text":"40","fontSize":12,"align":"left","dy":-8,"color":"black"},
   "encoding":{"x":{"field":"x","type":"quantitative","axis":null},"y":{"field":"y","type":"quantitative","axis":null}}},
  {"transform":[{"filter":"datum.k=='st2'"}],"mark":{"type":"text","text":"Ar/","fontSize":18,"align":"left","dx":10,"color":"black"},
   "encoding":{"x":{"field":"x","type":"quantitative","axis":null},"y":{"field":"y","type":"quantitative","axis":null}}},
  {"transform":[{"filter":"datum.k=='st2'"}],"mark":{"type":"text","text":"36","fontSize":12,"align":"left","dx":39,"dy":-8,"color":"black"},
   "encoding":{"x":{"field":"x","type":"quantitative","axis":null},"y":{"field":"y","type":"quantitative","axis":null}}},
  {"transform":[{"filter":"datum.k=='st2'"}],"mark":{"type":"text","fontSize":18,"align":"left","dx":52,"color":"black"},
   "encoding":{"x":{"field":"x","type":"quantitative","axis":null},"y":{"field":"y","type":"quantitative","axis":null},"text":{"field":"t"}}},
  {"transform":[{"filter":"datum.k=='fit' && datum.x==0"}],"mark":{"type":"text","text":"36","fontSize":19,"angle":270,"align":"left","baseline":"alphabetic","dy":-96,"color":"black"},
   "encoding":{"x":{"datum":0,"type":"quantitative","axis":null},"y":{"datum":0.00093,"type":"quantitative","axis":null}}},
  {"transform":[{"filter":"datum.k=='fit' && datum.x==0"}],"mark":{"type":"text","text":"Ar/","fontSize":37,"angle":270,"align":"left","baseline":"alphabetic","dy":-75,"color":"black"},
   "encoding":{"x":{"datum":0,"type":"quantitative","axis":null},"y":{"datum":0.00135,"type":"quantitative","axis":null}}},
  {"transform":[{"filter":"datum.k=='fit' && datum.x==0"}],"mark":{"type":"text","text":"40","fontSize":19,"angle":270,"align":"left","baseline":"alphabetic","dy":-96,"color":"black"},
   "encoding":{"x":{"datum":0,"type":"quantitative","axis":null},"y":{"datum":0.00218,"type":"quantitative","axis":null}}},
  {"transform":[{"filter":"datum.k=='fit' && datum.x==0"}],"mark":{"type":"text","text":"Ar","fontSize":37,"angle":270,"align":"left","baseline":"alphabetic","dy":-75,"color":"black"},
   "encoding":{"x":{"datum":0,"type":"quantitative","axis":null},"y":{"datum":0.00251,"type":"quantitative","axis":null}}}
 ],
 "resolve":{"axis":{"x":"independent","y":"independent"}}},
{"width":384,"height":288,"transform":[{"filter":"datum.p=='d'"}],
 "layer":[
  {"transform":[{"filter":"datum.k=='fit'"}],"mark":{"type":"line","color":"black","strokeWidth":1.3},
   "encoding":{"x":{"field":"x","type":"quantitative","scale":{"domain":[0,0.4],"nice":false,"zero":false},"axis":{"orient":"bottom","values":[0,0.02,0.04,0.06,0.08,0.1,0.12,0.14,0.16,0.18,0.2,0.22,0.24,0.26,0.28,0.3,0.32,0.34,0.36,0.38,0.4],"labelExpr":"abs(datum.value*10-round(datum.value*10))<0.01 ? (datum.value==0 ? '0' : format(datum.value,'.1f')) : ''","title":null}},
    "y":{"field":"y","type":"quantitative","scale":{"domain":[0,0.004],"nice":false,"zero":false},"axis":{"orient":"left","values":[0,0.0002,0.0004,0.0006,0.0008,0.001,0.0012,0.0014,0.0016,0.0018,0.002,0.0022,0.0024,0.0026,0.0028,0.003,0.0032,0.0034,0.0036,0.0038,0.004],"labels":false,"title":null}}}},
  {"transform":[{"filter":"datum.k=='atm'"}],"mark":{"type":"rule","color":"black","strokeWidth":4.5},
   "encoding":{"x":{"field":"x","type":"quantitative","axis":{"orient":"top","values":[0,0.02,0.04,0.06,0.08,0.1,0.12,0.14,0.16,0.18,0.2,0.22,0.24,0.26,0.28,0.3,0.32,0.34,0.36,0.38,0.4],"labels":false,"title":null}},"x2":{"field":"x2"},
    "y":{"field":"y","type":"quantitative","axis":{"orient":"right","values":[0,0.0002,0.0004,0.0006,0.0008,0.001,0.0012,0.0014,0.0016,0.0018,0.002,0.0022,0.0024,0.0026,0.0028,0.003,0.0032,0.0034,0.0036,0.0038,0.004],"labels":false,"title":null}}}},
  {"transform":[{"filter":"datum.k=='pt' && datum.i==0"}],"mark":{"type":"rect","filled":false,"stroke":"#b8226c","strokeWidth":1.3},
   "encoding":{"x":{"field":"x","type":"quantitative","axis":null},"x2":{"field":"x2"},"y":{"field":"y","type":"quantitative","axis":null},"y2":{"field":"y2"}}},
  {"transform":[{"filter":"datum.k=='pt' && datum.i==1"}],"mark":{"type":"rect","color":"black","stroke":"black","strokeWidth":1.3},
   "encoding":{"x":{"field":"x","type":"quantitative","axis":null},"x2":{"field":"x2"},"y":{"field":"y","type":"quantitative","axis":null},"y2":{"field":"y2"}}},
  {"transform":[{"filter":"datum.k=='lab'"}],"mark":{"type":"text","fontSize":16},
   "encoding":{"x":{"field":"x","type":"quantitative","axis":null},"y":{"field":"y","type":"quantitative","axis":null},"text":{"field":"s"},"color":{"condition":{"test":"datum.i==1","value":"black"},"value":"#b8226c"}}},
  {"transform":[{"filter":"datum.k=='ttl'"}],"mark":{"type":"text","fontSize":26,"align":"left","color":"black"},
   "encoding":{"x":{"field":"x","type":"quantitative","axis":null},"y":{"field":"y","type":"quantitative","axis":null},"text":{"field":"t"}}},
  {"transform":[{"filter":"datum.k=='st'"}],"mark":{"type":"text","fontSize":18,"align":"left","color":"black"},
   "encoding":{"x":{"field":"x","type":"quantitative","axis":null},"y":{"field":"y","type":"quantitative","axis":null},"text":{"field":"t"}}},
  {"transform":[{"filter":"datum.k=='st2'"}],"mark":{"type":"text","text":"40","fontSize":12,"align":"left","dy":-8,"color":"black"},
   "encoding":{"x":{"field":"x","type":"quantitative","axis":null},"y":{"field":"y","type":"quantitative","axis":null}}},
  {"transform":[{"filter":"datum.k=='st2'"}],"mark":{"type":"text","text":"Ar/","fontSize":18,"align":"left","dx":10,"color":"black"},
   "encoding":{"x":{"field":"x","type":"quantitative","axis":null},"y":{"field":"y","type":"quantitative","axis":null}}},
  {"transform":[{"filter":"datum.k=='st2'"}],"mark":{"type":"text","text":"36","fontSize":12,"align":"left","dx":39,"dy":-8,"color":"black"},
   "encoding":{"x":{"field":"x","type":"quantitative","axis":null},"y":{"field":"y","type":"quantitative","axis":null}}},
  {"transform":[{"filter":"datum.k=='st2'"}],"mark":{"type":"text","fontSize":18,"align":"left","dx":52,"color":"black"},
   "encoding":{"x":{"field":"x","type":"quantitative","axis":null},"y":{"field":"y","type":"quantitative","axis":null},"text":{"field":"t"}}}
 ],
 "resolve":{"axis":{"x":"independent","y":"independent"}}},
{"width":384,"height":288,"transform":[{"filter":"datum.p=='e'"}],
 "layer":[
  {"transform":[{"filter":"datum.k=='fit'"}],"mark":{"type":"line","color":"black","strokeWidth":1.3},
   "encoding":{"x":{"field":"x","type":"quantitative","scale":{"domain":[0,0.4],"nice":false,"zero":false},"axis":{"orient":"bottom","values":[0,0.02,0.04,0.06,0.08,0.1,0.12,0.14,0.16,0.18,0.2,0.22,0.24,0.26,0.28,0.3,0.32,0.34,0.36,0.38,0.4],"labelExpr":"abs(datum.value*10-round(datum.value*10))<0.01 ? (datum.value==0 ? '0' : format(datum.value,'.1f')) : ''","title":null}},
    "y":{"field":"y","type":"quantitative","scale":{"domain":[0,0.004],"nice":false,"zero":false},"axis":{"orient":"left","values":[0,0.0002,0.0004,0.0006,0.0008,0.001,0.0012,0.0014,0.0016,0.0018,0.002,0.0022,0.0024,0.0026,0.0028,0.003,0.0032,0.0034,0.0036,0.0038,0.004],"labelExpr":"abs(datum.value*1000-round(datum.value*1000))<0.01 ? (datum.value==0 ? '0' : format(datum.value,'.3f')) : ''","title":null}}}},
  {"transform":[{"filter":"datum.k=='atm'"}],"mark":{"type":"rule","color":"black","strokeWidth":4.5},
   "encoding":{"x":{"field":"x","type":"quantitative","axis":{"orient":"top","values":[0,0.02,0.04,0.06,0.08,0.1,0.12,0.14,0.16,0.18,0.2,0.22,0.24,0.26,0.28,0.3,0.32,0.34,0.36,0.38,0.4],"labels":false,"title":null}},"x2":{"field":"x2"},
    "y":{"field":"y","type":"quantitative","axis":{"orient":"right","values":[0,0.0002,0.0004,0.0006,0.0008,0.001,0.0012,0.0014,0.0016,0.0018,0.002,0.0022,0.0024,0.0026,0.0028,0.003,0.0032,0.0034,0.0036,0.0038,0.004],"labels":false,"title":null}}}},
  {"transform":[{"filter":"datum.k=='pt' && datum.i==0"}],"mark":{"type":"rect","filled":false,"stroke":"#b8226c","strokeWidth":1.3},
   "encoding":{"x":{"field":"x","type":"quantitative","axis":null},"x2":{"field":"x2"},"y":{"field":"y","type":"quantitative","axis":null},"y2":{"field":"y2"}}},
  {"transform":[{"filter":"datum.k=='pt' && datum.i==1"}],"mark":{"type":"rect","color":"black","stroke":"black","strokeWidth":1.3},
   "encoding":{"x":{"field":"x","type":"quantitative","axis":null},"x2":{"field":"x2"},"y":{"field":"y","type":"quantitative","axis":null},"y2":{"field":"y2"}}},
  {"transform":[{"filter":"datum.k=='lab'"}],"mark":{"type":"text","fontSize":16},
   "encoding":{"x":{"field":"x","type":"quantitative","axis":null},"y":{"field":"y","type":"quantitative","axis":null},"text":{"field":"s"},"color":{"condition":{"test":"datum.i==1","value":"black"},"value":"#b8226c"}}},
  {"transform":[{"filter":"datum.k=='ttl'"}],"mark":{"type":"text","fontSize":26,"align":"left","color":"black"},
   "encoding":{"x":{"field":"x","type":"quantitative","axis":null},"y":{"field":"y","type":"quantitative","axis":null},"text":{"field":"t"}}},
  {"transform":[{"filter":"datum.k=='st'"}],"mark":{"type":"text","fontSize":18,"align":"left","color":"black"},
   "encoding":{"x":{"field":"x","type":"quantitative","axis":null},"y":{"field":"y","type":"quantitative","axis":null},"text":{"field":"t"}}},
  {"transform":[{"filter":"datum.k=='st2'"}],"mark":{"type":"text","text":"40","fontSize":12,"align":"left","dy":-8,"color":"black"},
   "encoding":{"x":{"field":"x","type":"quantitative","axis":null},"y":{"field":"y","type":"quantitative","axis":null}}},
  {"transform":[{"filter":"datum.k=='st2'"}],"mark":{"type":"text","text":"Ar/","fontSize":18,"align":"left","dx":10,"color":"black"},
   "encoding":{"x":{"field":"x","type":"quantitative","axis":null},"y":{"field":"y","type":"quantitative","axis":null}}},
  {"transform":[{"filter":"datum.k=='st2'"}],"mark":{"type":"text","text":"36","fontSize":12,"align":"left","dx":39,"dy":-8,"color":"black"},
   "encoding":{"x":{"field":"x","type":"quantitative","axis":null},"y":{"field":"y","type":"quantitative","axis":null}}},
  {"transform":[{"filter":"datum.k=='st2'"}],"mark":{"type":"text","fontSize":18,"align":"left","dx":52,"color":"black"},
   "encoding":{"x":{"field":"x","type":"quantitative","axis":null},"y":{"field":"y","type":"quantitative","axis":null},"text":{"field":"t"}}},
  {"transform":[{"filter":"datum.k=='fit' && datum.x==0"}],"mark":{"type":"text","text":"36","fontSize":19,"angle":270,"align":"left","baseline":"alphabetic","dy":-96,"color":"black"},
   "encoding":{"x":{"datum":0,"type":"quantitative","axis":null},"y":{"datum":0.00093,"type":"quantitative","axis":null}}},
  {"transform":[{"filter":"datum.k=='fit' && datum.x==0"}],"mark":{"type":"text","text":"Ar/","fontSize":37,"angle":270,"align":"left","baseline":"alphabetic","dy":-75,"color":"black"},
   "encoding":{"x":{"datum":0,"type":"quantitative","axis":null},"y":{"datum":0.00135,"type":"quantitative","axis":null}}},
  {"transform":[{"filter":"datum.k=='fit' && datum.x==0"}],"mark":{"type":"text","text":"40","fontSize":19,"angle":270,"align":"left","baseline":"alphabetic","dy":-96,"color":"black"},
   "encoding":{"x":{"datum":0,"type":"quantitative","axis":null},"y":{"datum":0.00218,"type":"quantitative","axis":null}}},
  {"transform":[{"filter":"datum.k=='fit' && datum.x==0"}],"mark":{"type":"text","text":"Ar","fontSize":37,"angle":270,"align":"left","baseline":"alphabetic","dy":-75,"color":"black"},
   "encoding":{"x":{"datum":0,"type":"quantitative","axis":null},"y":{"datum":0.00251,"type":"quantitative","axis":null}}}
 ],
 "resolve":{"axis":{"x":"independent","y":"independent"}}},
{"width":384,"height":288,"transform":[{"filter":"datum.p=='f'"}],
 "layer":[
  {"transform":[{"filter":"datum.k=='fit'"}],"mark":{"type":"line","color":"black","strokeWidth":1.3},
   "encoding":{"x":{"field":"x","type":"quantitative","scale":{"domain":[0,0.4],"nice":false,"zero":false},"axis":{"orient":"bottom","values":[0,0.02,0.04,0.06,0.08,0.1,0.12,0.14,0.16,0.18,0.2,0.22,0.24,0.26,0.28,0.3,0.32,0.34,0.36,0.38,0.4],"labelExpr":"abs(datum.value*10-round(datum.value*10))<0.01 ? (datum.value==0 ? '0' : format(datum.value,'.1f')) : ''","title":null}},
    "y":{"field":"y","type":"quantitative","scale":{"domain":[0,0.004],"nice":false,"zero":false},"axis":{"orient":"left","values":[0,0.0002,0.0004,0.0006,0.0008,0.001,0.0012,0.0014,0.0016,0.0018,0.002,0.0022,0.0024,0.0026,0.0028,0.003,0.0032,0.0034,0.0036,0.0038,0.004],"labels":false,"title":null}}}},
  {"transform":[{"filter":"datum.k=='atm'"}],"mark":{"type":"rule","color":"black","strokeWidth":4.5},
   "encoding":{"x":{"field":"x","type":"quantitative","axis":{"orient":"top","values":[0,0.02,0.04,0.06,0.08,0.1,0.12,0.14,0.16,0.18,0.2,0.22,0.24,0.26,0.28,0.3,0.32,0.34,0.36,0.38,0.4],"labels":false,"title":null}},"x2":{"field":"x2"},
    "y":{"field":"y","type":"quantitative","axis":{"orient":"right","values":[0,0.0002,0.0004,0.0006,0.0008,0.001,0.0012,0.0014,0.0016,0.0018,0.002,0.0022,0.0024,0.0026,0.0028,0.003,0.0032,0.0034,0.0036,0.0038,0.004],"labels":false,"title":null}}}},
  {"transform":[{"filter":"datum.k=='pt' && datum.i==0"}],"mark":{"type":"rect","filled":false,"stroke":"#b8226c","strokeWidth":1.3},
   "encoding":{"x":{"field":"x","type":"quantitative","axis":null},"x2":{"field":"x2"},"y":{"field":"y","type":"quantitative","axis":null},"y2":{"field":"y2"}}},
  {"transform":[{"filter":"datum.k=='pt' && datum.i==1"}],"mark":{"type":"rect","color":"black","stroke":"black","strokeWidth":1.3},
   "encoding":{"x":{"field":"x","type":"quantitative","axis":null},"x2":{"field":"x2"},"y":{"field":"y","type":"quantitative","axis":null},"y2":{"field":"y2"}}},
  {"transform":[{"filter":"datum.k=='lab'"}],"mark":{"type":"text","fontSize":16},
   "encoding":{"x":{"field":"x","type":"quantitative","axis":null},"y":{"field":"y","type":"quantitative","axis":null},"text":{"field":"s"},"color":{"condition":{"test":"datum.i==1","value":"black"},"value":"#b8226c"}}},
  {"transform":[{"filter":"datum.k=='ttl'"}],"mark":{"type":"text","fontSize":26,"align":"left","color":"black"},
   "encoding":{"x":{"field":"x","type":"quantitative","axis":null},"y":{"field":"y","type":"quantitative","axis":null},"text":{"field":"t"}}},
  {"transform":[{"filter":"datum.k=='st'"}],"mark":{"type":"text","fontSize":18,"align":"left","color":"black"},
   "encoding":{"x":{"field":"x","type":"quantitative","axis":null},"y":{"field":"y","type":"quantitative","axis":null},"text":{"field":"t"}}},
  {"transform":[{"filter":"datum.k=='st2'"}],"mark":{"type":"text","text":"40","fontSize":12,"align":"left","dy":-8,"color":"black"},
   "encoding":{"x":{"field":"x","type":"quantitative","axis":null},"y":{"field":"y","type":"quantitative","axis":null}}},
  {"transform":[{"filter":"datum.k=='st2'"}],"mark":{"type":"text","text":"Ar/","fontSize":18,"align":"left","dx":10,"color":"black"},
   "encoding":{"x":{"field":"x","type":"quantitative","axis":null},"y":{"field":"y","type":"quantitative","axis":null}}},
  {"transform":[{"filter":"datum.k=='st2'"}],"mark":{"type":"text","text":"36","fontSize":12,"align":"left","dx":39,"dy":-8,"color":"black"},
   "encoding":{"x":{"field":"x","type":"quantitative","axis":null},"y":{"field":"y","type":"quantitative","axis":null}}},
  {"transform":[{"filter":"datum.k=='st2'"}],"mark":{"type":"text","fontSize":18,"align":"left","dx":52,"color":"black"},
   "encoding":{"x":{"field":"x","type":"quantitative","axis":null},"y":{"field":"y","type":"quantitative","axis":null},"text":{"field":"t"}}}
 ],
 "resolve":{"axis":{"x":"independent","y":"independent"}}},
{"width":384,"height":288,"transform":[{"filter":"datum.p=='g'"}],
 "layer":[
  {"transform":[{"filter":"datum.k=='fit'"}],"mark":{"type":"line","color":"black","strokeWidth":1.3},
   "encoding":{"x":{"field":"x","type":"quantitative","scale":{"domain":[0,0.4],"nice":false,"zero":false},"axis":{"orient":"bottom","values":[0,0.02,0.04,0.06,0.08,0.1,0.12,0.14,0.16,0.18,0.2,0.22,0.24,0.26,0.28,0.3,0.32,0.34,0.36,0.38,0.4],"labelExpr":"abs(datum.value*10-round(datum.value*10))<0.01 ? (datum.value==0 ? '0' : format(datum.value,'.1f')) : ''","title":null}},
    "y":{"field":"y","type":"quantitative","scale":{"domain":[0,0.004],"nice":false,"zero":false},"axis":{"orient":"left","values":[0,0.0002,0.0004,0.0006,0.0008,0.001,0.0012,0.0014,0.0016,0.0018,0.002,0.0022,0.0024,0.0026,0.0028,0.003,0.0032,0.0034,0.0036,0.0038,0.004],"labelExpr":"abs(datum.value*1000-round(datum.value*1000))<0.01 ? (datum.value==0 ? '0' : format(datum.value,'.3f')) : ''","title":null}}}},
  {"transform":[{"filter":"datum.k=='atm'"}],"mark":{"type":"rule","color":"black","strokeWidth":4.5},
   "encoding":{"x":{"field":"x","type":"quantitative","axis":{"orient":"top","values":[0,0.02,0.04,0.06,0.08,0.1,0.12,0.14,0.16,0.18,0.2,0.22,0.24,0.26,0.28,0.3,0.32,0.34,0.36,0.38,0.4],"labels":false,"title":null}},"x2":{"field":"x2"},
    "y":{"field":"y","type":"quantitative","axis":{"orient":"right","values":[0,0.0002,0.0004,0.0006,0.0008,0.001,0.0012,0.0014,0.0016,0.0018,0.002,0.0022,0.0024,0.0026,0.0028,0.003,0.0032,0.0034,0.0036,0.0038,0.004],"labels":false,"title":null}}}},
  {"transform":[{"filter":"datum.k=='pt' && datum.i==0"}],"mark":{"type":"rect","filled":false,"stroke":"#b8226c","strokeWidth":1.3},
   "encoding":{"x":{"field":"x","type":"quantitative","axis":null},"x2":{"field":"x2"},"y":{"field":"y","type":"quantitative","axis":null},"y2":{"field":"y2"}}},
  {"transform":[{"filter":"datum.k=='pt' && datum.i==1"}],"mark":{"type":"rect","color":"black","stroke":"black","strokeWidth":1.3},
   "encoding":{"x":{"field":"x","type":"quantitative","axis":null},"x2":{"field":"x2"},"y":{"field":"y","type":"quantitative","axis":null},"y2":{"field":"y2"}}},
  {"transform":[{"filter":"datum.k=='lab'"}],"mark":{"type":"text","fontSize":16},
   "encoding":{"x":{"field":"x","type":"quantitative","axis":null},"y":{"field":"y","type":"quantitative","axis":null},"text":{"field":"s"},"color":{"condition":{"test":"datum.i==1","value":"black"},"value":"#b8226c"}}},
  {"transform":[{"filter":"datum.k=='ttl'"}],"mark":{"type":"text","fontSize":26,"align":"left","color":"black"},
   "encoding":{"x":{"field":"x","type":"quantitative","axis":null},"y":{"field":"y","type":"quantitative","axis":null},"text":{"field":"t"}}},
  {"transform":[{"filter":"datum.k=='st'"}],"mark":{"type":"text","fontSize":18,"align":"left","color":"black"},
   "encoding":{"x":{"field":"x","type":"quantitative","axis":null},"y":{"field":"y","type":"quantitative","axis":null},"text":{"field":"t"}}},
  {"transform":[{"filter":"datum.k=='st2'"}],"mark":{"type":"text","text":"40","fontSize":12,"align":"left","dy":-8,"color":"black"},
   "encoding":{"x":{"field":"x","type":"quantitative","axis":null},"y":{"field":"y","type":"quantitative","axis":null}}},
  {"transform":[{"filter":"datum.k=='st2'"}],"mark":{"type":"text","text":"Ar/","fontSize":18,"align":"left","dx":10,"color":"black"},
   "encoding":{"x":{"field":"x","type":"quantitative","axis":null},"y":{"field":"y","type":"quantitative","axis":null}}},
  {"transform":[{"filter":"datum.k=='st2'"}],"mark":{"type":"text","text":"36","fontSize":12,"align":"left","dx":39,"dy":-8,"color":"black"},
   "encoding":{"x":{"field":"x","type":"quantitative","axis":null},"y":{"field":"y","type":"quantitative","axis":null}}},
  {"transform":[{"filter":"datum.k=='st2'"}],"mark":{"type":"text","fontSize":18,"align":"left","dx":52,"color":"black"},
   "encoding":{"x":{"field":"x","type":"quantitative","axis":null},"y":{"field":"y","type":"quantitative","axis":null},"text":{"field":"t"}}},
  {"transform":[{"filter":"datum.k=='fit' && datum.x==0"}],"mark":{"type":"text","text":"36","fontSize":19,"angle":270,"align":"left","baseline":"alphabetic","dy":-96,"color":"black"},
   "encoding":{"x":{"datum":0,"type":"quantitative","axis":null},"y":{"datum":0.00093,"type":"quantitative","axis":null}}},
  {"transform":[{"filter":"datum.k=='fit' && datum.x==0"}],"mark":{"type":"text","text":"Ar/","fontSize":37,"angle":270,"align":"left","baseline":"alphabetic","dy":-75,"color":"black"},
   "encoding":{"x":{"datum":0,"type":"quantitative","axis":null},"y":{"datum":0.00135,"type":"quantitative","axis":null}}},
  {"transform":[{"filter":"datum.k=='fit' && datum.x==0"}],"mark":{"type":"text","text":"40","fontSize":19,"angle":270,"align":"left","baseline":"alphabetic","dy":-96,"color":"black"},
   "encoding":{"x":{"datum":0,"type":"quantitative","axis":null},"y":{"datum":0.00218,"type":"quantitative","axis":null}}},
  {"transform":[{"filter":"datum.k=='fit' && datum.x==0"}],"mark":{"type":"text","text":"Ar","fontSize":37,"angle":270,"align":"left","baseline":"alphabetic","dy":-75,"color":"black"},
   "encoding":{"x":{"datum":0,"type":"quantitative","axis":null},"y":{"datum":0.00251,"type":"quantitative","axis":null}}}
 ],
 "resolve":{"axis":{"x":"independent","y":"independent"}}},
{"width":384,"height":288,"transform":[{"filter":"datum.p=='h'"}],
 "layer":[
  {"transform":[{"filter":"datum.k=='fit'"}],"mark":{"type":"line","color":"black","strokeWidth":1.3},
   "encoding":{"x":{"field":"x","type":"quantitative","scale":{"domain":[0,1],"nice":false,"zero":false},"axis":{"orient":"bottom","values":[0,0.05,0.1,0.15,0.2,0.25,0.3,0.35,0.4,0.45,0.5,0.55,0.6,0.65,0.7,0.75,0.8,0.85,0.9,0.95,1],"labelExpr":"abs(datum.value*5-round(datum.value*5))<0.01 ? (datum.value==0 ? '0' : format(datum.value,'.1f')) : ''","title":null}},
    "y":{"field":"y","type":"quantitative","scale":{"domain":[0,0.004],"nice":false,"zero":false},"axis":{"orient":"left","values":[0,0.0002,0.0004,0.0006,0.0008,0.001,0.0012,0.0014,0.0016,0.0018,0.002,0.0022,0.0024,0.0026,0.0028,0.003,0.0032,0.0034,0.0036,0.0038,0.004],"labels":false,"title":null}}}},
  {"transform":[{"filter":"datum.k=='atm'"}],"mark":{"type":"rule","color":"black","strokeWidth":4.5},
   "encoding":{"x":{"field":"x","type":"quantitative","axis":{"orient":"top","values":[0,0.05,0.1,0.15,0.2,0.25,0.3,0.35,0.4,0.45,0.5,0.55,0.6,0.65,0.7,0.75,0.8,0.85,0.9,0.95,1],"labels":false,"title":null}},"x2":{"field":"x2"},
    "y":{"field":"y","type":"quantitative","axis":{"orient":"right","values":[0,0.0002,0.0004,0.0006,0.0008,0.001,0.0012,0.0014,0.0016,0.0018,0.002,0.0022,0.0024,0.0026,0.0028,0.003,0.0032,0.0034,0.0036,0.0038,0.004],"labels":false,"title":null}}}},
  {"transform":[{"filter":"datum.k=='pt' && datum.i==0"}],"mark":{"type":"rect","filled":false,"stroke":"#b8226c","strokeWidth":1.3},
   "encoding":{"x":{"field":"x","type":"quantitative","axis":null},"x2":{"field":"x2"},"y":{"field":"y","type":"quantitative","axis":null},"y2":{"field":"y2"}}},
  {"transform":[{"filter":"datum.k=='pt' && datum.i==1"}],"mark":{"type":"rect","color":"black","stroke":"black","strokeWidth":1.3},
   "encoding":{"x":{"field":"x","type":"quantitative","axis":null},"x2":{"field":"x2"},"y":{"field":"y","type":"quantitative","axis":null},"y2":{"field":"y2"}}},
  {"transform":[{"filter":"datum.k=='lab'"}],"mark":{"type":"text","fontSize":16},
   "encoding":{"x":{"field":"x","type":"quantitative","axis":null},"y":{"field":"y","type":"quantitative","axis":null},"text":{"field":"s"},"color":{"condition":{"test":"datum.i==1","value":"black"},"value":"#b8226c"}}},
  {"transform":[{"filter":"datum.k=='ttl'"}],"mark":{"type":"text","fontSize":26,"align":"left","color":"black"},
   "encoding":{"x":{"field":"x","type":"quantitative","axis":null},"y":{"field":"y","type":"quantitative","axis":null},"text":{"field":"t"}}},
  {"transform":[{"filter":"datum.k=='st'"}],"mark":{"type":"text","fontSize":18,"align":"left","color":"black"},
   "encoding":{"x":{"field":"x","type":"quantitative","axis":null},"y":{"field":"y","type":"quantitative","axis":null},"text":{"field":"t"}}},
  {"transform":[{"filter":"datum.k=='st2'"}],"mark":{"type":"text","text":"40","fontSize":12,"align":"left","dy":-8,"color":"black"},
   "encoding":{"x":{"field":"x","type":"quantitative","axis":null},"y":{"field":"y","type":"quantitative","axis":null}}},
  {"transform":[{"filter":"datum.k=='st2'"}],"mark":{"type":"text","text":"Ar/","fontSize":18,"align":"left","dx":10,"color":"black"},
   "encoding":{"x":{"field":"x","type":"quantitative","axis":null},"y":{"field":"y","type":"quantitative","axis":null}}},
  {"transform":[{"filter":"datum.k=='st2'"}],"mark":{"type":"text","text":"36","fontSize":12,"align":"left","dx":39,"dy":-8,"color":"black"},
   "encoding":{"x":{"field":"x","type":"quantitative","axis":null},"y":{"field":"y","type":"quantitative","axis":null}}},
  {"transform":[{"filter":"datum.k=='st2'"}],"mark":{"type":"text","fontSize":18,"align":"left","dx":52,"color":"black"},
   "encoding":{"x":{"field":"x","type":"quantitative","axis":null},"y":{"field":"y","type":"quantitative","axis":null},"text":{"field":"t"}}}
 ],
 "resolve":{"axis":{"x":"independent","y":"independent"}}},
{"width":384,"height":288,"transform":[{"filter":"datum.p=='i'"}],
 "layer":[
  {"transform":[{"filter":"datum.k=='fit'"}],"mark":{"type":"line","color":"black","strokeWidth":1.3},
   "encoding":{"x":{"field":"x","type":"quantitative","scale":{"domain":[0,1],"nice":false,"zero":false},"axis":{"orient":"bottom","values":[0,0.05,0.1,0.15,0.2,0.25,0.3,0.35,0.4,0.45,0.5,0.55,0.6,0.65,0.7,0.75,0.8,0.85,0.9,0.95,1],"labelExpr":"abs(datum.value*5-round(datum.value*5))<0.01 ? (datum.value==0 ? '0' : format(datum.value,'.1f')) : ''","title":null}},
    "y":{"field":"y","type":"quantitative","scale":{"domain":[0,0.004],"nice":false,"zero":false},"axis":{"orient":"left","values":[0,0.0002,0.0004,0.0006,0.0008,0.001,0.0012,0.0014,0.0016,0.0018,0.002,0.0022,0.0024,0.0026,0.0028,0.003,0.0032,0.0034,0.0036,0.0038,0.004],"labelExpr":"abs(datum.value*1000-round(datum.value*1000))<0.01 ? (datum.value==0 ? '0' : format(datum.value,'.3f')) : ''","title":null}}}},
  {"transform":[{"filter":"datum.k=='atm'"}],"mark":{"type":"rule","color":"black","strokeWidth":4.5},
   "encoding":{"x":{"field":"x","type":"quantitative","axis":{"orient":"top","values":[0,0.05,0.1,0.15,0.2,0.25,0.3,0.35,0.4,0.45,0.5,0.55,0.6,0.65,0.7,0.75,0.8,0.85,0.9,0.95,1],"labels":false,"title":null}},"x2":{"field":"x2"},
    "y":{"field":"y","type":"quantitative","axis":{"orient":"right","values":[0,0.0002,0.0004,0.0006,0.0008,0.001,0.0012,0.0014,0.0016,0.0018,0.002,0.0022,0.0024,0.0026,0.0028,0.003,0.0032,0.0034,0.0036,0.0038,0.004],"labels":false,"title":null}}}},
  {"transform":[{"filter":"datum.k=='pt' && datum.i==0"}],"mark":{"type":"rect","filled":false,"stroke":"#b8226c","strokeWidth":1.3},
   "encoding":{"x":{"field":"x","type":"quantitative","axis":null},"x2":{"field":"x2"},"y":{"field":"y","type":"quantitative","axis":null},"y2":{"field":"y2"}}},
  {"transform":[{"filter":"datum.k=='pt' && datum.i==1"}],"mark":{"type":"rect","color":"black","stroke":"black","strokeWidth":1.3},
   "encoding":{"x":{"field":"x","type":"quantitative","axis":null},"x2":{"field":"x2"},"y":{"field":"y","type":"quantitative","axis":null},"y2":{"field":"y2"}}},
  {"transform":[{"filter":"datum.k=='lab'"}],"mark":{"type":"text","fontSize":16},
   "encoding":{"x":{"field":"x","type":"quantitative","axis":null},"y":{"field":"y","type":"quantitative","axis":null},"text":{"field":"s"},"color":{"condition":{"test":"datum.i==1","value":"black"},"value":"#b8226c"}}},
  {"transform":[{"filter":"datum.k=='ttl'"}],"mark":{"type":"text","fontSize":26,"align":"left","color":"black"},
   "encoding":{"x":{"field":"x","type":"quantitative","axis":null},"y":{"field":"y","type":"quantitative","axis":null},"text":{"field":"t"}}},
  {"transform":[{"filter":"datum.k=='st'"}],"mark":{"type":"text","fontSize":18,"align":"left","color":"black"},
   "encoding":{"x":{"field":"x","type":"quantitative","axis":null},"y":{"field":"y","type":"quantitative","axis":null},"text":{"field":"t"}}},
  {"transform":[{"filter":"datum.k=='st2'"}],"mark":{"type":"text","text":"40","fontSize":12,"align":"left","dy":-8,"color":"black"},
   "encoding":{"x":{"field":"x","type":"quantitative","axis":null},"y":{"field":"y","type":"quantitative","axis":null}}},
  {"transform":[{"filter":"datum.k=='st2'"}],"mark":{"type":"text","text":"Ar/","fontSize":18,"align":"left","dx":10,"color":"black"},
   "encoding":{"x":{"field":"x","type":"quantitative","axis":null},"y":{"field":"y","type":"quantitative","axis":null}}},
  {"transform":[{"filter":"datum.k=='st2'"}],"mark":{"type":"text","text":"36","fontSize":12,"align":"left","dx":39,"dy":-8,"color":"black"},
   "encoding":{"x":{"field":"x","type":"quantitative","axis":null},"y":{"field":"y","type":"quantitative","axis":null}}},
  {"transform":[{"filter":"datum.k=='st2'"}],"mark":{"type":"text","fontSize":18,"align":"left","dx":52,"color":"black"},
   "encoding":{"x":{"field":"x","type":"quantitative","axis":null},"y":{"field":"y","type":"quantitative","axis":null},"text":{"field":"t"}}},
  {"transform":[{"filter":"datum.k=='fit' && datum.x==0"}],"mark":{"type":"text","text":"36","fontSize":19,"angle":270,"align":"left","baseline":"alphabetic","dy":-96,"color":"black"},
   "encoding":{"x":{"datum":0,"type":"quantitative","axis":null},"y":{"datum":0.00093,"type":"quantitative","axis":null}}},
  {"transform":[{"filter":"datum.k=='fit' && datum.x==0"}],"mark":{"type":"text","text":"Ar/","fontSize":37,"angle":270,"align":"left","baseline":"alphabetic","dy":-75,"color":"black"},
   "encoding":{"x":{"datum":0,"type":"quantitative","axis":null},"y":{"datum":0.00135,"type":"quantitative","axis":null}}},
  {"transform":[{"filter":"datum.k=='fit' && datum.x==0"}],"mark":{"type":"text","text":"40","fontSize":19,"angle":270,"align":"left","baseline":"alphabetic","dy":-96,"color":"black"},
   "encoding":{"x":{"datum":0,"type":"quantitative","axis":null},"y":{"datum":0.00218,"type":"quantitative","axis":null}}},
  {"transform":[{"filter":"datum.k=='fit' && datum.x==0"}],"mark":{"type":"text","text":"Ar","fontSize":37,"angle":270,"align":"left","baseline":"alphabetic","dy":-75,"color":"black"},
   "encoding":{"x":{"datum":0,"type":"quantitative","axis":null},"y":{"datum":0.00251,"type":"quantitative","axis":null}}},
  {"transform":[{"filter":"datum.k=='fit' && datum.x==0"}],"mark":{"type":"text","text":"39","fontSize":19,"align":"left","baseline":"alphabetic","dy":67,"color":"black"},
   "encoding":{"x":{"datum":0.268,"type":"quantitative","axis":null},"y":{"datum":0,"type":"quantitative","axis":null}}},
  {"transform":[{"filter":"datum.k=='fit' && datum.x==0"}],"mark":{"type":"text","text":"Ar/","fontSize":37,"align":"left","baseline":"alphabetic","dy":86,"color":"black"},
   "encoding":{"x":{"datum":0.336,"type":"quantitative","axis":null},"y":{"datum":0,"type":"quantitative","axis":null}}},
  {"transform":[{"filter":"datum.k=='fit' && datum.x==0"}],"mark":{"type":"text","text":"40","fontSize":19,"align":"left","baseline":"alphabetic","dy":67,"color":"black"},
   "encoding":{"x":{"datum":0.482,"type":"quantitative","axis":null},"y":{"datum":0,"type":"quantitative","axis":null}}},
  {"transform":[{"filter":"datum.k=='fit' && datum.x==0"}],"mark":{"type":"text","text":"Ar","fontSize":37,"align":"left","baseline":"alphabetic","dy":86,"color":"black"},
   "encoding":{"x":{"datum":0.552,"type":"quantitative","axis":null},"y":{"datum":0,"type":"quantitative","axis":null}}}
 ],
 "resolve":{"axis":{"x":"independent","y":"independent"}}},
{"width":384,"height":288,"transform":[{"filter":"datum.p=='j'"}],
 "layer":[
  {"transform":[{"filter":"datum.k=='fit'"}],"mark":{"type":"line","color":"black","strokeWidth":1.3},
   "encoding":{"x":{"field":"x","type":"quantitative","scale":{"domain":[0,1],"nice":false,"zero":false},"axis":{"orient":"bottom","values":[0,0.05,0.1,0.15,0.2,0.25,0.3,0.35,0.4,0.45,0.5,0.55,0.6,0.65,0.7,0.75,0.8,0.85,0.9,0.95,1],"labelExpr":"abs(datum.value*5-round(datum.value*5))<0.01 ? (datum.value==0 ? '0' : format(datum.value,'.1f')) : ''","title":null}},
    "y":{"field":"y","type":"quantitative","scale":{"domain":[0,0.004],"nice":false,"zero":false},"axis":{"orient":"left","values":[0,0.0002,0.0004,0.0006,0.0008,0.001,0.0012,0.0014,0.0016,0.0018,0.002,0.0022,0.0024,0.0026,0.0028,0.003,0.0032,0.0034,0.0036,0.0038,0.004],"labels":false,"title":null}}}},
  {"transform":[{"filter":"datum.k=='atm'"}],"mark":{"type":"rule","color":"black","strokeWidth":4.5},
   "encoding":{"x":{"field":"x","type":"quantitative","axis":{"orient":"top","values":[0,0.05,0.1,0.15,0.2,0.25,0.3,0.35,0.4,0.45,0.5,0.55,0.6,0.65,0.7,0.75,0.8,0.85,0.9,0.95,1],"labels":false,"title":null}},"x2":{"field":"x2"},
    "y":{"field":"y","type":"quantitative","axis":{"orient":"right","values":[0,0.0002,0.0004,0.0006,0.0008,0.001,0.0012,0.0014,0.0016,0.0018,0.002,0.0022,0.0024,0.0026,0.0028,0.003,0.0032,0.0034,0.0036,0.0038,0.004],"labels":false,"title":null}}}},
  {"transform":[{"filter":"datum.k=='pt' && datum.i==0"}],"mark":{"type":"rect","filled":false,"stroke":"#b8226c","strokeWidth":1.3},
   "encoding":{"x":{"field":"x","type":"quantitative","axis":null},"x2":{"field":"x2"},"y":{"field":"y","type":"quantitative","axis":null},"y2":{"field":"y2"}}},
  {"transform":[{"filter":"datum.k=='pt' && datum.i==1"}],"mark":{"type":"rect","color":"black","stroke":"black","strokeWidth":1.3},
   "encoding":{"x":{"field":"x","type":"quantitative","axis":null},"x2":{"field":"x2"},"y":{"field":"y","type":"quantitative","axis":null},"y2":{"field":"y2"}}},
  {"transform":[{"filter":"datum.k=='lab'"}],"mark":{"type":"text","fontSize":16},
   "encoding":{"x":{"field":"x","type":"quantitative","axis":null},"y":{"field":"y","type":"quantitative","axis":null},"text":{"field":"s"},"color":{"condition":{"test":"datum.i==1","value":"black"},"value":"#b8226c"}}},
  {"transform":[{"filter":"datum.k=='ttl'"}],"mark":{"type":"text","fontSize":26,"align":"left","color":"black"},
   "encoding":{"x":{"field":"x","type":"quantitative","axis":null},"y":{"field":"y","type":"quantitative","axis":null},"text":{"field":"t"}}},
  {"transform":[{"filter":"datum.k=='st'"}],"mark":{"type":"text","fontSize":18,"align":"left","color":"black"},
   "encoding":{"x":{"field":"x","type":"quantitative","axis":null},"y":{"field":"y","type":"quantitative","axis":null},"text":{"field":"t"}}},
  {"transform":[{"filter":"datum.k=='st2'"}],"mark":{"type":"text","text":"40","fontSize":12,"align":"left","dy":-8,"color":"black"},
   "encoding":{"x":{"field":"x","type":"quantitative","axis":null},"y":{"field":"y","type":"quantitative","axis":null}}},
  {"transform":[{"filter":"datum.k=='st2'"}],"mark":{"type":"text","text":"Ar/","fontSize":18,"align":"left","dx":10,"color":"black"},
   "encoding":{"x":{"field":"x","type":"quantitative","axis":null},"y":{"field":"y","type":"quantitative","axis":null}}},
  {"transform":[{"filter":"datum.k=='st2'"}],"mark":{"type":"text","text":"36","fontSize":12,"align":"left","dx":39,"dy":-8,"color":"black"},
   "encoding":{"x":{"field":"x","type":"quantitative","axis":null},"y":{"field":"y","type":"quantitative","axis":null}}},
  {"transform":[{"filter":"datum.k=='st2'"}],"mark":{"type":"text","fontSize":18,"align":"left","dx":52,"color":"black"},
   "encoding":{"x":{"field":"x","type":"quantitative","axis":null},"y":{"field":"y","type":"quantitative","axis":null},"text":{"field":"t"}}},
  {"transform":[{"filter":"datum.k=='fit' && datum.x==0"}],"mark":{"type":"text","text":"39","fontSize":19,"align":"left","baseline":"alphabetic","dy":67,"color":"black"},
   "encoding":{"x":{"datum":0.336,"type":"quantitative","axis":null},"y":{"datum":0,"type":"quantitative","axis":null}}},
  {"transform":[{"filter":"datum.k=='fit' && datum.x==0"}],"mark":{"type":"text","text":"Ar/","fontSize":37,"align":"left","baseline":"alphabetic","dy":86,"color":"black"},
   "encoding":{"x":{"datum":0.406,"type":"quantitative","axis":null},"y":{"datum":0,"type":"quantitative","axis":null}}},
  {"transform":[{"filter":"datum.k=='fit' && datum.x==0"}],"mark":{"type":"text","text":"40","fontSize":19,"align":"left","baseline":"alphabetic","dy":67,"color":"black"},
   "encoding":{"x":{"datum":0.5625,"type":"quantitative","axis":null},"y":{"datum":0,"type":"quantitative","axis":null}}},
  {"transform":[{"filter":"datum.k=='fit' && datum.x==0"}],"mark":{"type":"text","text":"Ar","fontSize":37,"align":"left","baseline":"alphabetic","dy":86,"color":"black"},
   "encoding":{"x":{"datum":0.617,"type":"quantitative","axis":null},"y":{"datum":0,"type":"quantitative","axis":null}}}
 ],
 "resolve":{"axis":{"x":"independent","y":"independent"}}}
]
}
